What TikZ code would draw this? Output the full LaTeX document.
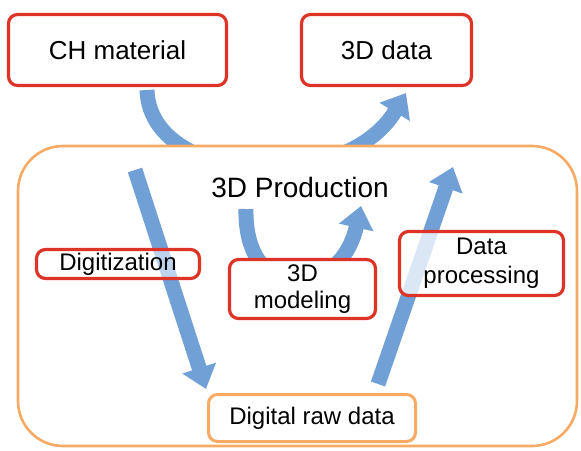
\documentclass[tikz,border=0pt]{standalone}
\usepackage{fontspec}
\setmainfont{Liberation Sans}
\usetikzlibrary{arrows.meta}
\definecolor{boxred}{RGB}{222,52,40}
\definecolor{boxorange}{RGB}{246,170,100}
\definecolor{arrowblue}{RGB}{112,160,214}
\tikzset{
  redbox/.style={draw=boxred, line width=3.2pt, rounded corners=9pt, align=center, inner sep=0pt},
  orangebox/.style={draw=boxorange, line width=3pt, rounded corners=9pt, align=center, inner sep=0pt},
  bigarrow/.style={draw=arrowblue, line width=15pt, -{Triangle[length=22pt,width=34pt]}},
  bigtxt/.style={font=\fontsize{26}{30}\selectfont},
  midtxt/.style={font=\fontsize{24}{27}\selectfont},
}
\begin{document}
\begin{tikzpicture}[x=1pt,y=-1pt]
\useasboundingbox (0,0) rectangle (581,450);
% top arrow (behind big box)
\coordinate (t1) at (147,90);
\coordinate (t2) at (406,93);
\draw[bigarrow] (t1) .. controls (150,185) and (345,195) .. (t2);
% big orange box
\node[draw=boxorange, line width=2.6pt, rounded corners=45pt, fill=white, minimum width=559pt, minimum height=300pt] (prod) at (297.5,296) {};
\node[font=\fontsize{28}{32}\selectfont] (prodtxt) at (300,187) {3D Production};
% inner arrows
\coordinate (d1) at (135,170);
\coordinate (d2) at (206,389);
\draw[bigarrow] (d1) -- (d2);
\coordinate (p1) at (378,384);
\coordinate (p2) at (453,167);
\draw[bigarrow] (p1) -- (p2);
\coordinate (m1) at (246,209);
\coordinate (m2) at (361,206);
\draw[bigarrow] (m1) .. controls (244,305) and (340,300) .. (m2);
% boxes
\node[redbox, bigtxt, minimum width=218pt, minimum height=71pt] (ch) at (117.5,50) {CH material};
\node[redbox, bigtxt, minimum width=170pt, minimum height=71pt] (data) at (386.5,50) {3D data};
\node[redbox, midtxt, fill=white, fill opacity=0.55, text opacity=1, minimum width=163pt, minimum height=29pt] (dig) at (118,264) {Digitization};
\node[redbox, midtxt, fill=white, minimum width=146pt, minimum height=59pt] (mod) at (302.5,289) {3D\\modeling};
\node[redbox, midtxt, fill=white, fill opacity=0.75, text opacity=1, minimum width=164pt, minimum height=64pt, font=\fontsize{24}{29}\selectfont] (proc) at (481.5,263.5) {Data\\processing};
\node[orangebox, midtxt, fill=white, minimum width=207pt, minimum height=47pt] (raw) at (312,418) {Digital raw data};
\end{tikzpicture}
\end{document}
